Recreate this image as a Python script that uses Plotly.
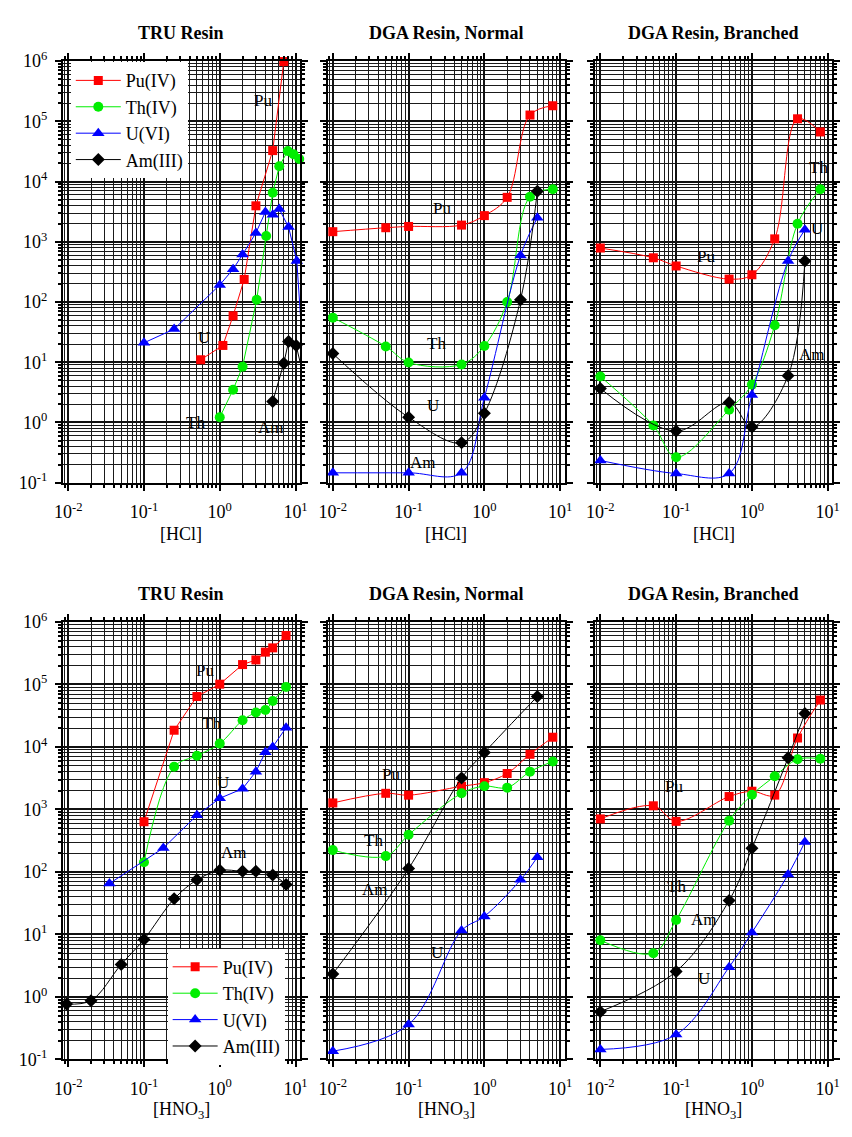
import math
import plotly.graph_objects as go

# ---------------- data ----------------
# Top row: [HCl]
tru_hcl_pu_x = [0.56, 1.1, 1.5, 2.1, 3.0, 5.0, 7.0]
tru_hcl_pu_y = [11, 19, 59, 237, 3950, 32600, 980000]
tru_hcl_th_x = [1.0, 1.5, 2.0, 3.07, 4.1, 5.0, 6.1, 7.9, 9.4, 11.2]
tru_hcl_th_y = [1.22, 3.5, 8.45, 109, 1250, 6500, 17900, 32200, 28400, 23600]
tru_hcl_u_x = [0.1, 0.25, 1.0, 1.5, 2.0, 3.0, 4.0, 5.0, 6.1, 8.1, 10.4, 11.7]
tru_hcl_u_y = [21, 35.5, 192, 350, 614, 1400, 3110, 2820, 3490, 1750, 478, 51.7]
tru_hcl_am_x = [5.0, 7.0, 8.1, 10.2, 11.5]
tru_hcl_am_y = [2.22, 9.6, 22.1, 19, 10]

dga_x8 = [0.01, 0.05, 0.1, 0.5, 1, 2, 4, 8]
dga_x6 = [0.01, 0.1, 0.5, 1, 3, 5]

dgan_hcl_pu = [1470, 1710, 1795, 1890, 2715, 5460, 127000, 181000]
dgan_hcl_th = [55, 18.3, 9.9, 9.2, 18.6, 100, 5600, 7460]
dgan_hcl_u = [0.146, 0.146, 0.146, 2.58, 591, 2500]
dgan_hcl_am = [13.9, 1.22, 0.46, 1.42, 109, 6900]

dgab_hcl_pu = [787, 542, 396, 240, 283, 1117, 110000, 66500]
dgab_hcl_th = [5.8, 0.89, 0.265, 1.63, 4.25, 41, 1985, 7460]
dgab_hcl_u = [0.234, 0.142, 0.142, 2.85, 478, 1585]
dgab_hcl_am = [3.66, 0.72, 2.14, 0.84, 5.96, 478]

# Bottom row: [HNO3]
tru_hno3_pu_x = [0.1, 0.25, 0.5, 1, 2, 3, 4, 5, 7.5]
tru_hno3_pu_y = [635, 18500, 64200, 101000, 208000, 247000, 329000, 385000, 608000]
tru_hno3_th_x = [0.1, 0.25, 0.5, 1, 2, 3, 4, 5, 7.5]
tru_hno3_th_y = [143, 4820, 7230, 11300, 26700, 35600, 39000, 54200, 91400]
tru_hno3_u_x = [0.035, 0.18, 0.5, 1, 2, 3, 4, 5, 7.5]
tru_hno3_u_y = [65, 241, 804, 1506, 2144, 4020, 8240, 10000, 20300]
tru_hno3_am_x = [0.0095, 0.02, 0.05, 0.1, 0.25, 0.5, 1, 2, 3, 5, 7.5]
tru_hno3_am_y = [0.77, 0.87, 3.3, 8.3, 37, 74.5, 106, 102, 102, 89, 63]

dgan_hno3_pu = [1270, 1810, 1690, 2350, 2680, 3760, 7620, 14300]
dgan_hno3_th = [223, 179, 392, 1810, 2350, 2230, 4020, 5860]
dgan_hno3_u = [0.135, 0.36, 11.5, 19.4, 74.5, 172]
dgan_hno3_am_x = [0.01, 0.1, 0.5, 1, 5]
dgan_hno3_am = [2.33, 113, 3170, 8130, 64200]

dgab_hno3_pu = [705, 1143, 644, 1607, 1955, 1693, 13900, 56300]
dgab_hno3_th = [8.05, 5.0, 17, 661, 1715, 3390, 6340, 6450]
dgab_hno3_u = [0.144, 0.249, 2.99, 10.7, 90.6, 301]
dgab_hno3_am = [0.58, 2.55, 34.8, 238, 6680, 34300]

series_names = ["Pu(IV)", "Th(IV)", "U(VI)", "Am(III)"]
panel_titles = ["TRU Resin", "DGA Resin, Normal", "DGA Resin, Branched"]
x_titles = ["[HCl]", "[HNO<sub>3</sub>]"]
x_tickvals = [0.01, 0.1, 1, 10]
x_ticktext = ["10<sup>-2</sup>", "10<sup>-1</sup>", "10<sup>0</sup>", "10<sup>1</sup>"]
y_tickvals = [0.1, 1, 10, 100, 1e3, 1e4, 1e5, 1e6]
y_ticktext = ["10<sup>-1</sup>", "10<sup>0</sup>", "10<sup>1</sup>", "10<sup>2</sup>",
              "10<sup>3</sup>", "10<sup>4</sup>", "10<sup>5</sup>", "10<sup>6</sup>"]

# curve labels: (panel index, text, x, y)
curve_labels = [
    (0, "Pu", 3.68, 223000), (0, "U", 0.62, 26), (0, "Th", 0.48, 1.0), (0, "Am", 4.7, 0.84),
    (1, "Pu", 0.28, 3620), (1, "Th", 0.23, 20.3), (1, "U", 0.21, 1.89), (1, "Am", 0.156, 0.217),
    (2, "Pu", 0.248, 569), (2, "Th", 7.6, 17300), (2, "U", 7.3, 1667), (2, "Am", 6.2, 13.4),
    (3, "Pu", 0.64, 167000), (3, "Th", 0.78, 23400), (3, "U", 1.1, 2680), (3, "Am", 1.56, 204),
    (4, "Pu", 0.058, 3610), (4, "Th", 0.034, 322), (4, "Am", 0.036, 51.6), (4, "U", 0.24, 5.2),
    (5, "Pu", 0.093, 2290), (5, "Th", 0.1, 59), (5, "Am", 0.236, 17), (5, "U", 0.236, 1.96),
]

# ---------------- style ----------------
FONT = "Liberation Serif"
colors = {"Pu(IV)": "#ff0000", "Th(IV)": "#00ee00", "U(VI)": "#0000ff", "Am(III)": "#000000"}
symbols = {"Pu(IV)": "square", "Th(IV)": "circle", "U(VI)": "triangle-up", "Am(III)": "diamond"}
msize = {"Pu(IV)": 9, "Th(IV)": 10, "U(VI)": 11, "Am(III)": 10}

W, H = 852, 1137
col_px = [(55, 297), (325, 567), (598, 840)]
row_px = [(50, 480), (622, 1068)]

fig = go.Figure()

panels = [
    (0, 0, [("Pu(IV)", tru_hcl_pu_x, tru_hcl_pu_y, "linear"),
            ("Th(IV)", tru_hcl_th_x, tru_hcl_th_y, "linear"),
            ("U(VI)", tru_hcl_u_x, tru_hcl_u_y, "linear"),
            ("Am(III)", tru_hcl_am_x, tru_hcl_am_y, "linear")], "legend"),
    (0, 1, [("Pu(IV)", dga_x8, dgan_hcl_pu, "spline"),
            ("Th(IV)", dga_x8, dgan_hcl_th, "spline"),
            ("U(VI)", dga_x6, dgan_hcl_u, "spline"),
            ("Am(III)", dga_x6, dgan_hcl_am, "spline")], None),
    (0, 2, [("Pu(IV)", dga_x8, dgab_hcl_pu, "spline"),
            ("Th(IV)", dga_x8, dgab_hcl_th, "spline"),
            ("U(VI)", dga_x6, dgab_hcl_u, "spline"),
            ("Am(III)", dga_x6, dgab_hcl_am, "spline")], None),
    (1, 0, [("Pu(IV)", tru_hno3_pu_x, tru_hno3_pu_y, "linear"),
            ("Th(IV)", tru_hno3_th_x, tru_hno3_th_y, "spline"),
            ("U(VI)", tru_hno3_u_x, tru_hno3_u_y, "linear"),
            ("Am(III)", tru_hno3_am_x, tru_hno3_am_y, "spline")], "legend2"),
    (1, 1, [("Pu(IV)", dga_x8, dgan_hno3_pu, "spline"),
            ("Th(IV)", dga_x8, dgan_hno3_th, "spline"),
            ("U(VI)", dga_x6, dgan_hno3_u, "spline"),
            ("Am(III)", dgan_hno3_am_x, dgan_hno3_am, "spline")], None),
    (1, 2, [("Pu(IV)", dga_x8, dgab_hno3_pu, "spline"),
            ("Th(IV)", dga_x8, dgab_hno3_th, "spline"),
            ("U(VI)", dga_x6, dgab_hno3_u, "spline"),
            ("Am(III)", dga_x6, dgab_hno3_am, "spline")], None),
]

minor_x = [m * 10 ** e for e in range(-3, 2) for m in range(2, 10)]
minor_y = [m * 10 ** e for e in range(-2, 7) for m in range(2, 10)]

layout_axes = {}
for idx, (r, c, series, leg) in enumerate(panels):
    n = idx + 1
    xa = "x" if n == 1 else f"x{n}"
    ya = "y" if n == 1 else f"y{n}"
    for name, xs, ys, shape in series:
        fig.add_trace(go.Scatter(
            x=xs, y=ys, mode="lines+markers", name=name,
            line=dict(color=colors[name], width=1, shape=shape, smoothing=1.0),
            marker=dict(symbol=symbols[name], size=msize[name], color=colors[name]),
            xaxis=xa, yaxis=ya, cliponaxis=False,
            showlegend=leg is not None, legend=leg if leg else "legend",
        ))
    x0, x1 = col_px[c]
    y0, y1 = row_px[r]
    xd = [x0 / W, x1 / W]
    yd = [1 - y1 / H, 1 - y0 / H]
    common = dict(showline=True, linecolor="black", linewidth=2, mirror="allticks",
                  ticks="outside", ticklen=6, tickwidth=1.5, tickcolor="black",
                  showgrid=True, gridcolor="#111", gridwidth=1.5, zeroline=False,
                  tickfont=dict(family=FONT, size=18, color="black"))
    layout_axes["xaxis" if n == 1 else f"xaxis{n}"] = dict(
        type="log", range=[-2.07, 1.06], domain=xd, anchor=ya,
        tickmode="array", tickvals=x_tickvals, ticktext=x_ticktext,
        ticklabelstandoff=6,
        minor=dict(tickmode="array", tickvals=minor_x, ticks="outside", ticklen=3,
                   tickcolor="black", showgrid=True, gridcolor="#1a1a1a", gridwidth=1),
        **common)
    layout_axes["yaxis" if n == 1 else f"yaxis{n}"] = dict(
        type="log", range=[-1, 6], domain=yd, anchor=xa,
        tickmode="array", tickvals=y_tickvals,
        ticktext=y_ticktext if c == 0 else [""] * len(y_tickvals),
        ticklabelstandoff=4,
        minor=dict(tickmode="array", tickvals=minor_y, ticks="outside", ticklen=3,
                   tickcolor="black", showgrid=True, gridcolor="#1a1a1a", gridwidth=1),
        **common)

annotations = []
for r in range(2):
    for c in range(3):
        x0, x1 = col_px[c]
        y0, y1 = row_px[r]
        annotations.append(dict(
            text=f"<b>{panel_titles[c]}</b>", xref="paper", yref="paper",
            x=(x0 + x1) / 2 / W, y=1 - (y0 - 29) / H, showarrow=False,
            font=dict(family=FONT, size=18, color="black"),
            xanchor="center", yanchor="middle"))
        annotations.append(dict(
            text=x_titles[r], xref="paper", yref="paper",
            x=(x0 + x1) / 2 / W, y=1 - (y1 + 52) / H, showarrow=False,
            font=dict(family=FONT, size=18, color="black"),
            xanchor="center", yanchor="middle"))

for p, txt, lx, ly in curve_labels:
    n = p + 1
    xa = "x" if n == 1 else f"x{n}"
    ya = "y" if n == 1 else f"y{n}"
    annotations.append(dict(
        text=txt, x=math.log10(lx), y=math.log10(ly), xref=xa, yref=ya,
        showarrow=False, font=dict(family=FONT, size=17, color="black"),
        xanchor="center", yanchor="middle"))

leg_common = dict(bgcolor="white", borderwidth=0, font=dict(family=FONT, size=18, color="black"),
                  xanchor="left", yanchor="top", itemwidth=45, tracegroupgap=0)

fig.update_layout(
    width=W, height=H, margin=dict(l=0, r=0, t=0, b=0),
    paper_bgcolor="white", plot_bgcolor="white",
    font=dict(family=FONT, size=15, color="black"),
    annotations=annotations,
    legend=dict(x=0.074, y=0.955, **leg_common),
    legend2=dict(x=0.19, y=0.160, **leg_common),
    **layout_axes,
)

fig.write_html("out.html")
